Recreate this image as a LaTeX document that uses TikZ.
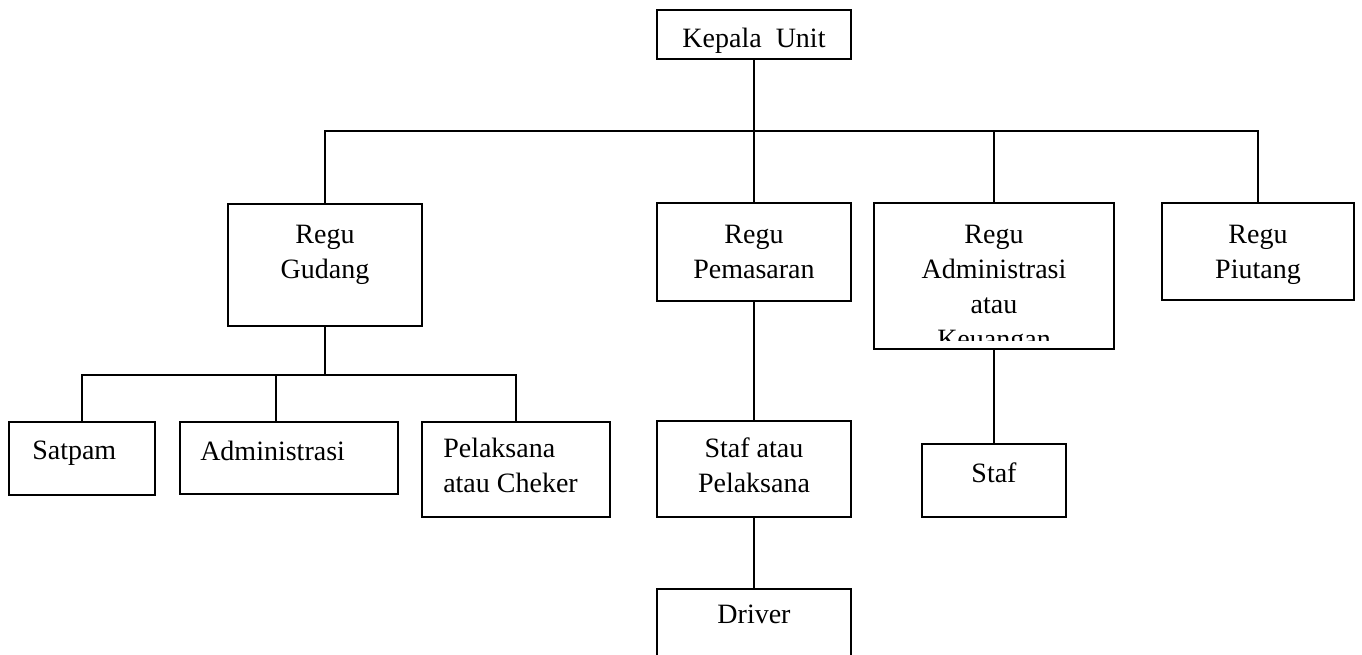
\documentclass[tikz,border=0pt]{standalone}
\usepackage{fontspec}
\setmainfont{Liberation Serif}
\usetikzlibrary{fit}
\begin{document}
\begin{tikzpicture}[x=0.75pt,y=-0.75pt,
  box/.style={draw, line width=0.95pt, inner sep=0pt},
  txt/.style={inner sep=0pt, font=\fontsize{21pt}{26.25pt}\selectfont},
  link/.style={line width=0.95pt}]
\useasboundingbox (0,0) rectangle (1362,655);

% head of unit
\node[box, fit={(657,10) (851,59)}] (kepala) {};
\node[txt, anchor=north] (kepala-t) at (754,28) {Kepala\ \ Unit};

% teams
\node[box, fit={(228,204) (422,326)}] (gudang) {};
\node[txt, anchor=north, align=center] (gudang-t) at (325,225) {Regu\\Gudang};

\node[box, fit={(657,203) (851,301)}] (pemasaran) {};
\node[txt, anchor=north, align=center] (pemasaran-t) at (754,225) {Regu\\Pemasaran};

\node[box, fit={(874,203) (1114,349)}] (adminkeu) {};
\begin{scope}
  \clip (874,203) rectangle (1114,341);
  \node[txt, anchor=north, align=center] (adminkeu-t) at (994,225) {Regu\\Administrasi\\atau\\Keuangan};
\end{scope}

\node[box, fit={(1162,203) (1354,300)}] (piutang) {};
\node[txt, anchor=north, align=center] (piutang-t) at (1258,225) {Regu\\Piutang};

% staff under the warehouse team
\node[box, fit={(9,422) (155,495)}] (satpam) {};
\node[txt, anchor=north west] (satpam-t) at (32,441) {Satpam};

\node[box, fit={(180,422) (398,494)}] (administrasi) {};
\node[txt, anchor=north west] (administrasi-t) at (200,441) {Administrasi};

\node[box, fit={(422,422) (610,517)}] (pelaksana) {};
\node[txt, anchor=north west, align=left] (pelaksana-t) at (443,438) {Pelaksana\\atau Cheker};

% staff under marketing and administration
\node[box, fit={(657,421) (851,517)}] (stafpel) {};
\node[txt, anchor=north, align=center] (stafpel-t) at (754,438) {Staf atau\\Pelaksana};

\node[box, fit={(922,444) (1066,517)}] (staf) {};
\node[txt, anchor=north] (staf-t) at (994,463) {Staf};

\node[box, fit={(657,589) (851,664)}] (driver) {};
\node[txt, anchor=north] (driver-t) at (754,605) {Driver};

% connectors
\coordinate (bus) at (754,131);
\coordinate (bus2) at (325,375);
\draw[link] (kepala.south) -- (bus);
\draw[link] (gudang.north) |- (bus);
\draw[link] (piutang.north) |- (bus);
\draw[link] (adminkeu.north) -- (adminkeu.north |- bus);
\draw[link] (pemasaran.north) -- (bus);

\draw[link] (gudang.south) -- (bus2);
\draw[link] (satpam.north) |- (bus2);
\draw[link] (pelaksana.north) |- (bus2);
\draw[link] ([xshift=-9.75pt]administrasi.north) -- ([xshift=-9.75pt]administrasi.north |- bus2);

\draw[link] (pemasaran.south) -- (stafpel.north);
\draw[link] (stafpel.south) -- (driver.north);
\draw[link] (adminkeu.south) -- (staf.north);
\end{tikzpicture}
\end{document}
